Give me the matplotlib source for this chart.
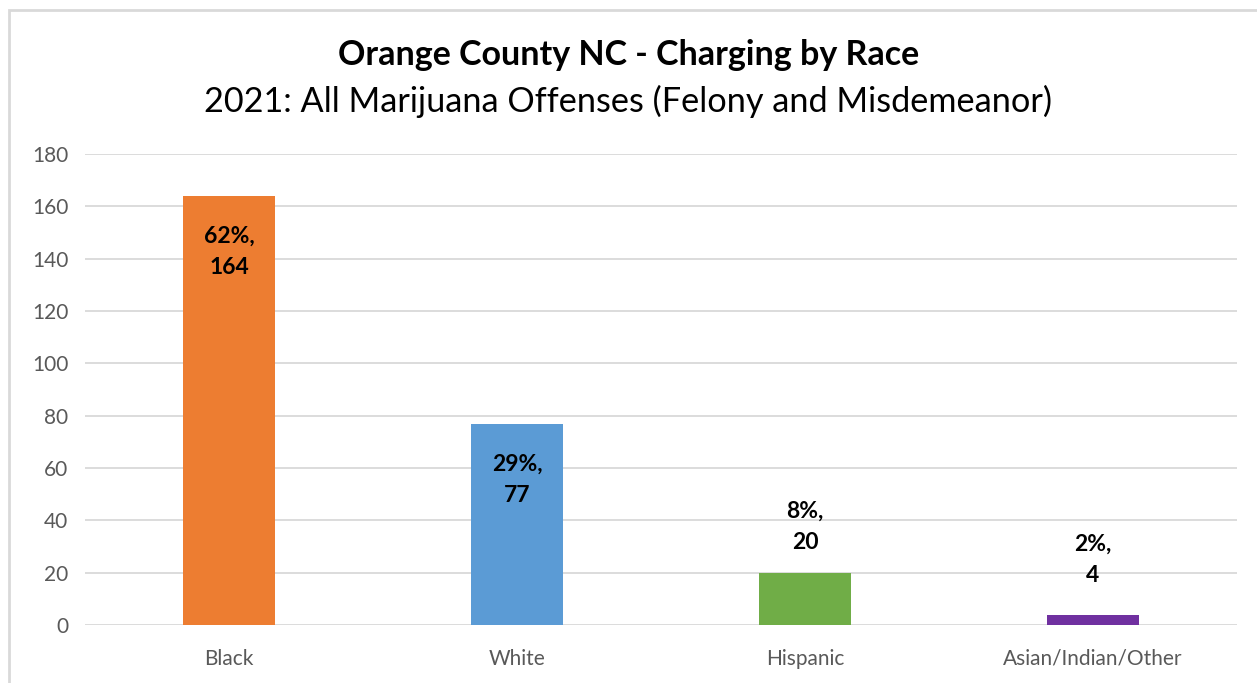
import matplotlib
matplotlib.use("Agg")
import matplotlib.pyplot as plt
from matplotlib.patches import Rectangle

categories = ["Black", "White", "Hispanic", "Asian/Indian/Other"]
counts = [164, 77, 20, 4]
percents = ["62%", "29%", "8%", "2%"]
colors = ["#ED7D31", "#5B9BD5", "#70AD47", "#7030A0"]
label_offsets = [-56, -56, 46, 55]  # pixels from bar top to label centre

plt.rcParams['font.family'] = ['Lato', 'DejaVu Sans']

fig = plt.figure(figsize=(12.57, 6.83), dpi=100)
ax = fig.add_axes([85/1257, 1-625/683, 1152/1257, (625-154)/683])

x = list(range(len(categories)))
ax.bar(x, counts, width=0.32, color=colors, zorder=3)
ax.set_xlim(-0.5, len(categories) - 0.5)
ax.set_ylim(0, 180)
ax.set_yticks(range(0, 181, 20))
ax.set_xticks(x)
ax.set_xticklabels(categories)
ax.tick_params(axis='both', length=0, labelsize=15, colors='#595959', pad=12)
ax.tick_params(axis='x', pad=17)
ax.yaxis.grid(True, color='#D9D9D9', linewidth=1.3, zorder=0)
for s in ax.spines.values():
    s.set_visible(False)

for xi, c, p, off in zip(x, counts, percents, label_offsets):
    ax.annotate(f"{p},\n{c}", xy=(xi, c), xytext=(0, off * 0.72), textcoords='offset points',
                ha='center', va='center', fontsize=16.5, fontweight='bold', color='black',
                linespacing=1.6, zorder=4)

fig.text(0.5, 1-55/683, "Orange County NC - Charging by Race", ha='center', va='center',
         fontsize=24.5, fontweight='bold', color='black')
fig.text(0.5, 1-101/683, "2021: All Marijuana Offenses (Felony and Misdemeanor)", ha='center', va='center',
         fontsize=24.7, color='black')

fig.patches.append(Rectangle((9/1257, -0.1), 1.2, 1 - 10/683 + 0.1, transform=fig.transFigure,
                             fill=False, edgecolor='#D9D9D9', linewidth=2))

fig.savefig("out.png", dpi=100)
